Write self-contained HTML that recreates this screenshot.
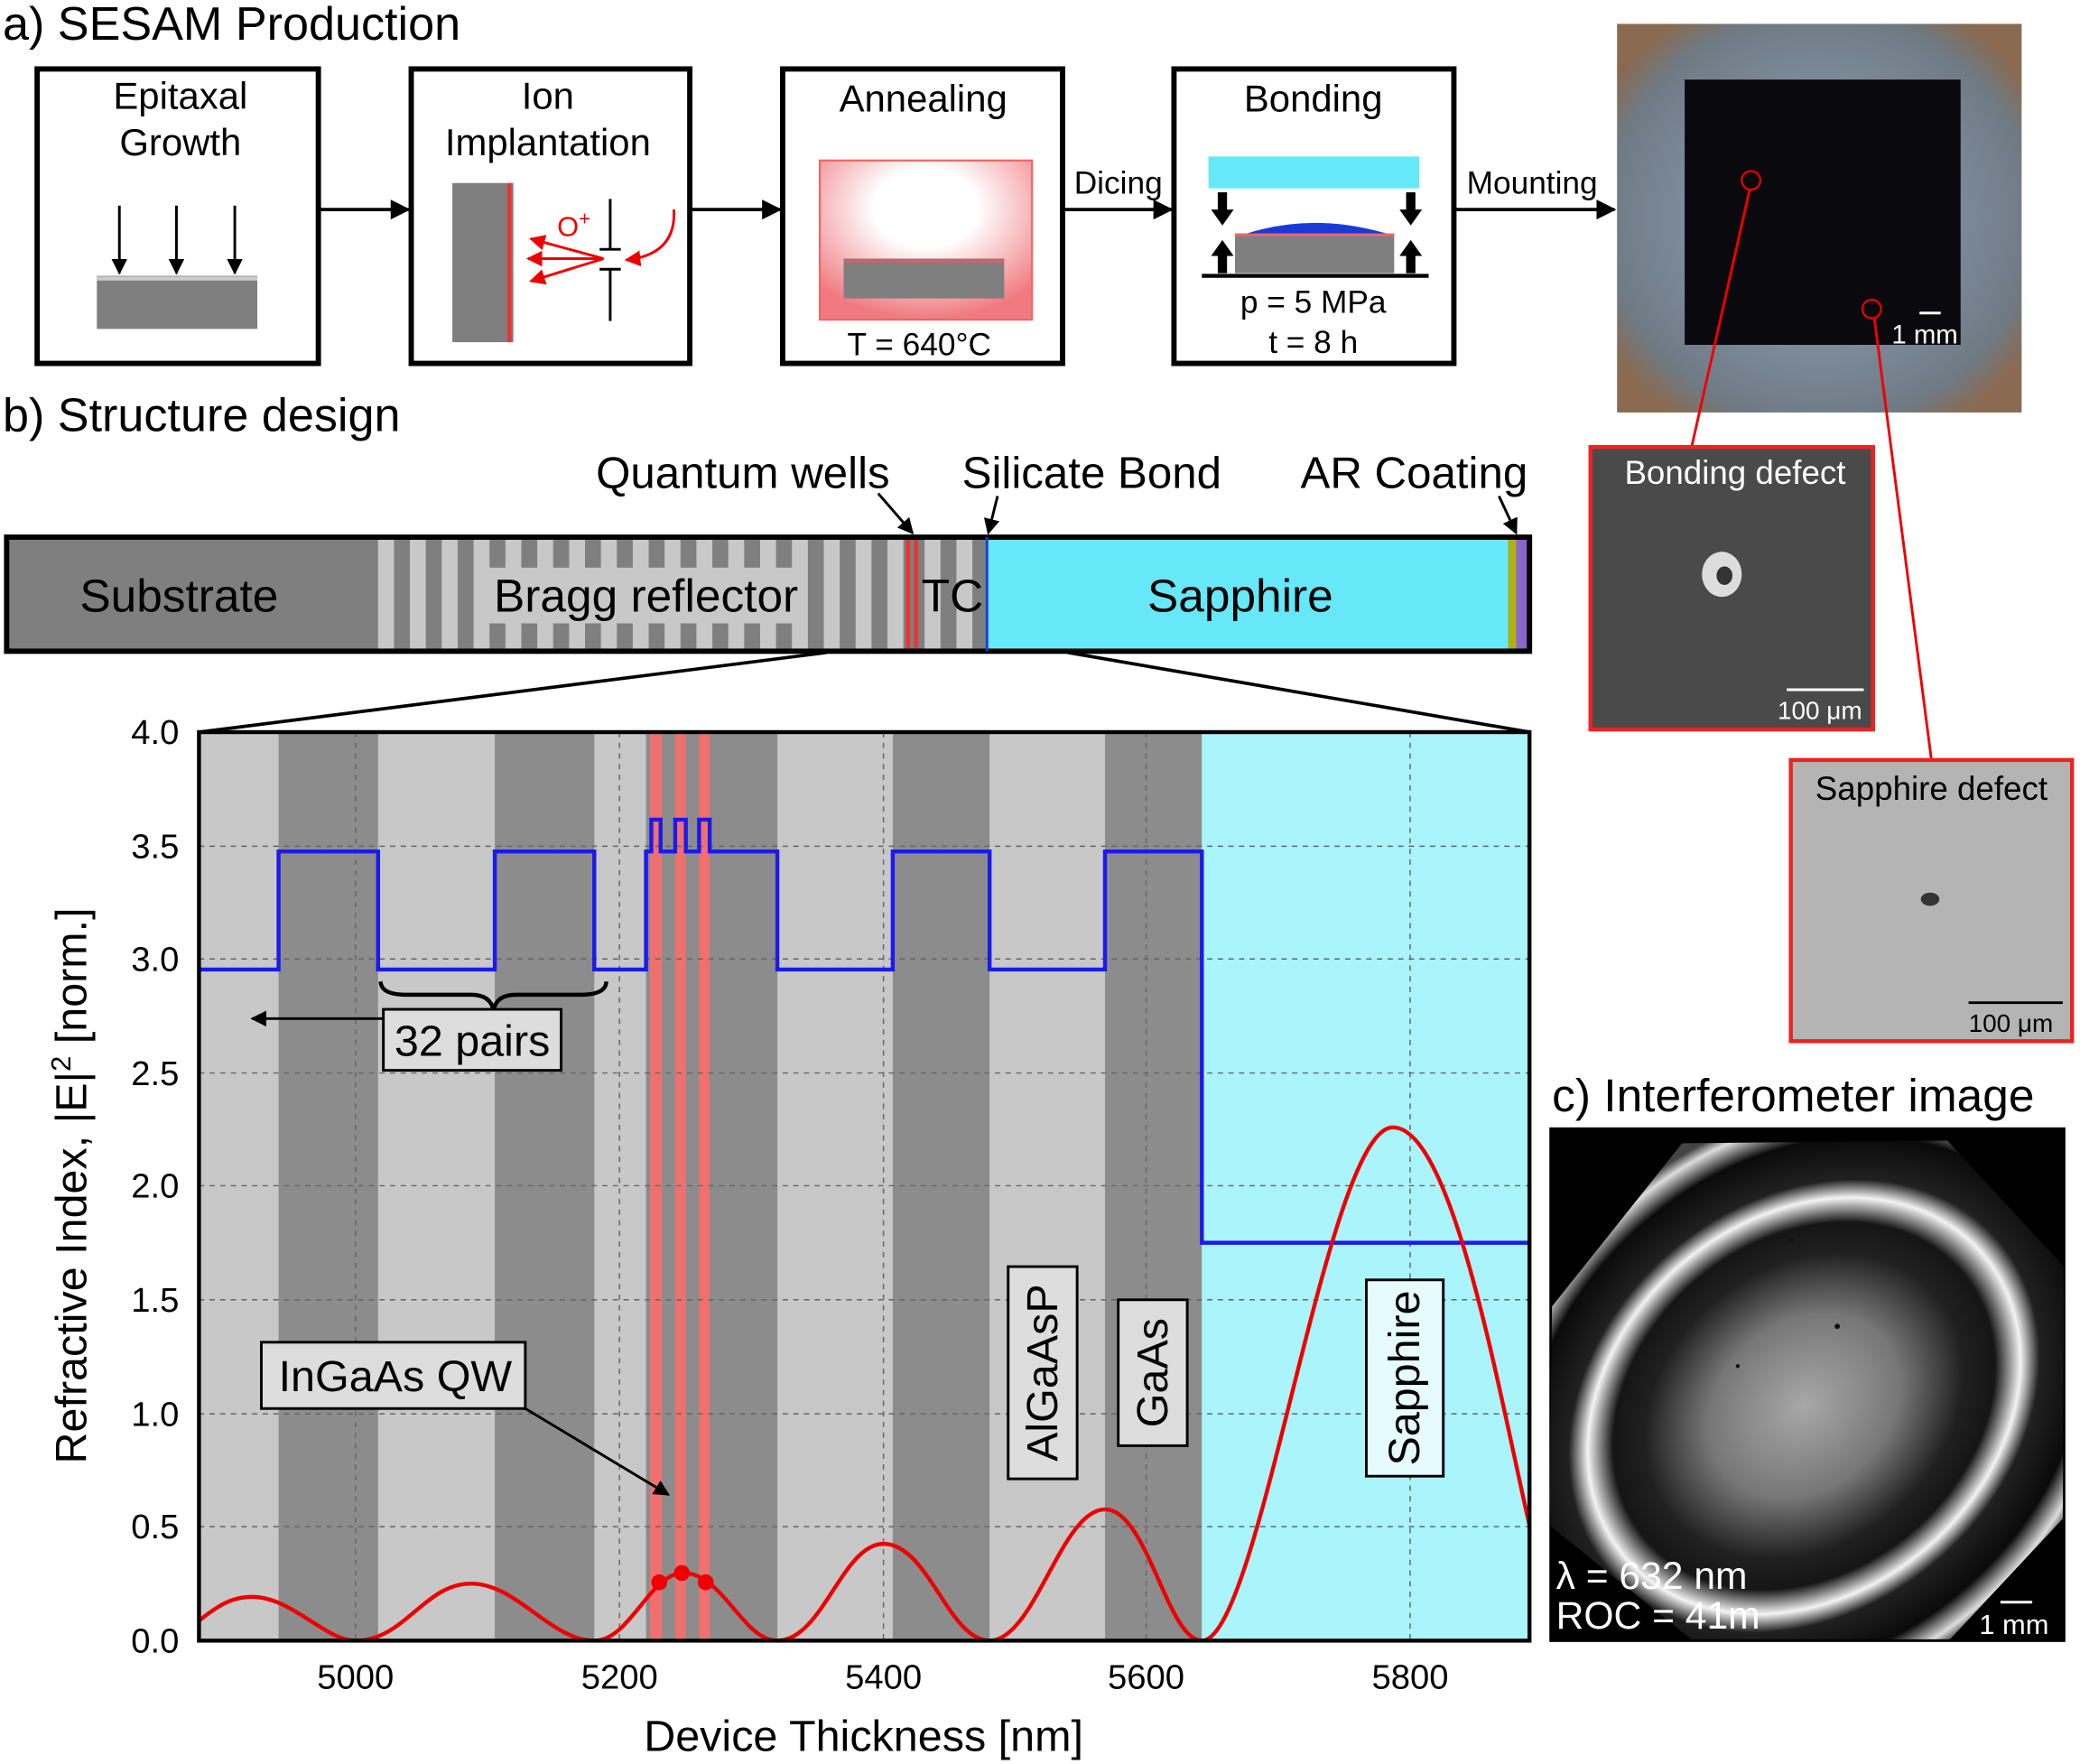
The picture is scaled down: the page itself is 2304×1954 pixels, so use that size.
<!DOCTYPE html>
<html><head><meta charset="utf-8"><style>
html,body{margin:0;padding:0;background:#fff}
svg{display:block}
text{font-family:"Liberation Sans",sans-serif;fill:#000}
</style></head><body>
<svg width="2304" height="1954" viewBox="0 0 1568 1330" preserveAspectRatio="none" xmlns="http://www.w3.org/2000/svg">
<defs>
<radialGradient id="ann" cx="50%" cy="30%" r="70%"><stop offset="0" stop-color="#fff"/><stop offset="0.35" stop-color="#fff"/><stop offset="1" stop-color="#f07a80"/></radialGradient>
<radialGradient id="intf" cx="1360" cy="1060" r="260" gradientUnits="userSpaceOnUse" gradientTransform="translate(1360 1060) rotate(-40) scale(1 0.8) translate(-1360 -1060)"><stop offset="0" stop-color="#a8a8a8"/><stop offset="0.3" stop-color="#777"/><stop offset="0.5" stop-color="#202020"/><stop offset="0.6" stop-color="#151515"/><stop offset="0.68" stop-color="#f4f4f4"/><stop offset="0.74" stop-color="#202020"/><stop offset="0.88" stop-color="#0a0a0a"/><stop offset="0.96" stop-color="#ddd"/><stop offset="1" stop-color="#444"/></radialGradient>
<radialGradient id="photo" cx="50%" cy="50%" r="62%"><stop offset="0.55" stop-color="#7c8a9a"/><stop offset="0.85" stop-color="#6f7a84"/><stop offset="1" stop-color="#8a6a50"/></radialGradient>
<marker id="ah" viewBox="0 0 10 10" refX="9" refY="5" markerWidth="6" markerHeight="6" orient="auto"><path d="M0,0L10,5L0,10z" fill="#000"/></marker>
<marker id="ahr" viewBox="0 0 10 10" refX="9" refY="5" markerWidth="6" markerHeight="6" orient="auto"><path d="M0,0L10,5L0,10z" fill="#e00"/></marker>
</defs>
<!-- a) -->
<text x="2" y="30" font-size="35.5">a) SESAM Production</text>
<g fill="none" stroke="#000" stroke-width="4">
<rect x="28" y="52" width="212" height="222"/><rect x="310" y="52" width="210" height="222"/><rect x="590" y="52" width="211" height="222"/><rect x="885" y="52" width="211" height="222"/>
</g>
<g stroke="#000" stroke-width="2.5" marker-end="url(#ah)">
<line x1="240" y1="158" x2="308" y2="158"/><line x1="520" y1="158" x2="588" y2="158"/><line x1="801" y1="158" x2="883" y2="158"/><line x1="1096" y1="158" x2="1217" y2="158"/>
</g>
<text x="136" y="82" font-size="28.5" text-anchor="middle">Epitaxal</text><text x="136" y="117" font-size="28.5" text-anchor="middle">Growth</text>
<rect x="73" y="208" width="121" height="40" fill="#7f7f7f"/><line x1="73" y1="210" x2="194" y2="210" stroke="#ccc" stroke-width="3"/>
<g stroke="#000" stroke-width="2" marker-end="url(#ah)"><line x1="90" y1="155" x2="90" y2="206"/><line x1="133" y1="155" x2="133" y2="206"/><line x1="177" y1="155" x2="177" y2="206"/></g>
<text x="413" y="82" font-size="28.5" text-anchor="middle">Ion</text><text x="413" y="117" font-size="28.5" text-anchor="middle">Implantation</text>
<rect x="341" y="138" width="46" height="120" fill="#7f7f7f"/><line x1="384" y1="138" x2="384" y2="258" stroke="#e33" stroke-width="3"/>
<text x="420" y="178" font-size="21" style="fill:#e00">O<tspan font-size="15" dy="-8">+</tspan></text>
<g stroke="#e00" stroke-width="2" marker-end="url(#ahr)"><line x1="455" y1="195" x2="400" y2="180"/><line x1="455" y1="195" x2="398" y2="195"/><line x1="455" y1="195" x2="400" y2="212"/></g>
<path d="M508,158 Q510,192 472,196" stroke="#e00" stroke-width="2" fill="none" marker-end="url(#ahr)"/>
<g stroke="#000" stroke-width="2"><line x1="460" y1="150" x2="460" y2="188"/><line x1="460" y1="203" x2="460" y2="242"/><line x1="452" y1="188" x2="468" y2="188"/><line x1="452" y1="203" x2="468" y2="203"/></g>
<text x="696" y="84" font-size="28.5" text-anchor="middle">Annealing</text>
<rect x="618" y="121" width="160" height="120" fill="url(#ann)" stroke="#e66" stroke-width="1.5"/>
<rect x="636" y="195" width="121" height="30" fill="#7f7f7f"/><line x1="636" y1="197" x2="757" y2="197" stroke="#c66" stroke-width="2"/>
<text x="693" y="268" font-size="24" text-anchor="middle">T = 640°C</text>
<text x="843" y="146" font-size="24" text-anchor="middle">Dicing</text>
<text x="990" y="84" font-size="28.5" text-anchor="middle">Bonding</text>
<rect x="911" y="118" width="159" height="24" fill="#66e8f8"/>
<rect x="931" y="176" width="120" height="30" fill="#7f7f7f"/><line x1="931" y1="177" x2="1051" y2="177" stroke="#e66" stroke-width="2"/>
<path d="M940,176 Q990,160 1045,176z" fill="#1a3ad8"/>
<line x1="906" y1="208" x2="1077" y2="208" stroke="#000" stroke-width="3"/>
<g fill="#000"><rect x="918" y="145" width="7" height="14"/><path d="M913,158h17l-8.5,12z"/><rect x="1060" y="145" width="7" height="14"/><path d="M1055,158h17l-8.5,12z"/>
<rect x="918" y="192" width="7" height="14"/><path d="M913,193h17l-8.5,-12z"/><rect x="1060" y="192" width="7" height="14"/><path d="M1055,193h17l-8.5,-12z"/></g>
<text x="990" y="236" font-size="24" text-anchor="middle">p = 5 MPa</text><text x="990" y="266" font-size="24" text-anchor="middle">t = 8 h</text>
<text x="1155" y="146" font-size="24" text-anchor="middle">Mounting</text>
<!-- photo -->
<rect x="1219" y="18" width="305" height="293" fill="url(#photo)"/>
<rect x="1270" y="60" width="208" height="200" fill="#0a0a0e"/>
<line x1="1447" y1="236" x2="1463" y2="236" stroke="#fff" stroke-width="2"/>
<text x="1426" y="259" font-size="20" style="fill:#fff">1 mm</text>
<circle cx="1320" cy="136" r="7" fill="none" stroke="#e00" stroke-width="1.5"/><circle cx="1411" cy="233" r="7" fill="none" stroke="#e00" stroke-width="1.5"/>
<line x1="1275" y1="338" x2="1319" y2="143" stroke="#e00" stroke-width="2"/><line x1="1456" y1="573" x2="1413" y2="240" stroke="#e00" stroke-width="2"/>
<rect x="1199" y="337" width="213" height="213" fill="#4a4a4a" stroke="#e22" stroke-width="3"/>
<text x="1308" y="365" font-size="25" text-anchor="middle" style="fill:#fff">Bonding defect</text>
<ellipse cx="1298" cy="433" rx="15" ry="17" fill="#ddd"/><ellipse cx="1300" cy="434" rx="6" ry="7" fill="#333"/>
<line x1="1347" y1="520" x2="1405" y2="520" stroke="#fff" stroke-width="2"/>
<text x="1340" y="542" font-size="19" style="fill:#fff">100 μm</text>
<rect x="1350" y="573" width="212" height="212" fill="#b4b4b4" stroke="#e22" stroke-width="3"/>
<text x="1456" y="603" font-size="25" text-anchor="middle">Sapphire defect</text>
<ellipse cx="1455" cy="678" rx="7" ry="5" fill="#333"/>
<line x1="1484" y1="756" x2="1555" y2="756" stroke="#000" stroke-width="2"/>
<text x="1484" y="778" font-size="19">100 μm</text>
<!-- c -->
<text x="1170" y="838" font-size="35">c) Interferometer image</text>
<rect x="1168" y="850" width="389" height="388" fill="#000"/>
<polygon points="1268,862 1468,860 1556,955 1555,1145 1470,1236 1275,1236 1168,1150 1170,985" fill="url(#intf)"/>
<g fill="#111"><circle cx="1350" cy="935" r="2"/><circle cx="1385" cy="1000" r="2"/><circle cx="1310" cy="1030" r="1.5"/></g>
<text x="1173" y="1198" font-size="29" style="fill:#fff">λ = 632 nm</text>
<text x="1173" y="1228" font-size="29" style="fill:#fff">ROC = 41m</text>
<line x1="1508" y1="1208" x2="1532" y2="1208" stroke="#fff" stroke-width="2"/>
<text x="1492" y="1232" font-size="21" style="fill:#fff">1 mm</text>
<!-- b -->
<text x="2" y="325" font-size="35.5">b) Structure design</text>
<text x="560" y="368" font-size="33.5" text-anchor="middle">Quantum wells</text>
<text x="823" y="368" font-size="33.5" text-anchor="middle">Silicate Bond</text>
<text x="1066" y="368" font-size="33.5" text-anchor="middle">AR Coating</text>
<g stroke="#000" stroke-width="2" marker-end="url(#ah)"><line x1="662" y1="372" x2="688" y2="402"/><line x1="752" y1="374" x2="745" y2="402"/><line x1="1130" y1="374" x2="1143" y2="402"/></g>
<rect x="5" y="405" width="1148" height="86" fill="#7f7f7f"/>
<g fill="#c8c8c8">
<rect x="285" y="405" width="12" height="86"/><rect x="309" y="405" width="12" height="86"/><rect x="333" y="405" width="12" height="86"/><rect x="357" y="405" width="12" height="86"/><rect x="381" y="405" width="12" height="86"/><rect x="405" y="405" width="12" height="86"/><rect x="429" y="405" width="12" height="86"/><rect x="453" y="405" width="12" height="86"/><rect x="477" y="405" width="12" height="86"/><rect x="501" y="405" width="12" height="86"/><rect x="525" y="405" width="12" height="86"/><rect x="549" y="405" width="12" height="86"/><rect x="573" y="405" width="12" height="86"/><rect x="597" y="405" width="12" height="86"/><rect x="621" y="405" width="12" height="86"/><rect x="645" y="405" width="12" height="86"/><rect x="669" y="405" width="12" height="86"/><rect x="697" y="405" width="12" height="86"/><rect x="721" y="405" width="12" height="86"/>
</g>
<rect x="683" y="405" width="3" height="86" fill="#e33"/><rect x="689" y="405" width="3" height="86" fill="#e33"/>
<rect x="743" y="405" width="394" height="86" fill="#66e8f8"/>
<rect x="1137" y="405" width="6" height="86" fill="#b0b010"/><rect x="1143" y="405" width="8" height="86" fill="#8866cc"/>
<rect x="5" y="405" width="1148" height="86" fill="none" stroke="#000" stroke-width="4"/>
<line x1="744" y1="405" x2="744" y2="491" stroke="#1a3ad8" stroke-width="2"/>
<text x="135" y="461" font-size="35" text-anchor="middle">Substrate</text>
<rect x="367" y="428" width="240" height="42" fill="#c8c8c8"/>
<text x="487" y="461" font-size="35" text-anchor="middle">Bragg reflector</text>
<text x="718" y="461" font-size="35" text-anchor="middle">TC</text>
<text x="935" y="461" font-size="35" text-anchor="middle">Sapphire</text>
<g stroke="#000" stroke-width="2.5"><line x1="623" y1="492" x2="150" y2="552"/><line x1="805" y1="492" x2="1153" y2="552"/></g>
<!-- plot -->
<rect x="150" y="552" width="1003" height="685" fill="#c8c8c8"/>
<g fill="#8c8c8c"><rect x="210" y="552" width="75" height="685"/><rect x="373" y="552" width="75" height="685"/><rect x="487" y="552" width="99" height="685"/><rect x="673" y="552" width="73" height="685"/><rect x="833" y="552" width="73" height="685"/></g>
<g fill="#f07070"><rect x="490" y="552" width="9" height="685"/><rect x="509" y="552" width="8" height="685"/><rect x="527" y="552" width="8" height="685"/></g>
<rect x="906" y="552" width="247" height="685" fill="#aaf4fc"/>
<g stroke="#666" stroke-width="1" stroke-dasharray="4,4">
<line x1="268" y1="552" x2="268" y2="1237"/><line x1="467" y1="552" x2="467" y2="1237"/><line x1="666" y1="552" x2="666" y2="1237"/><line x1="864" y1="552" x2="864" y2="1237"/><line x1="1063" y1="552" x2="1063" y2="1237"/>
<line x1="150" y1="638" x2="1153" y2="638"/><line x1="150" y1="723" x2="1153" y2="723"/><line x1="150" y1="809" x2="1153" y2="809"/><line x1="150" y1="894" x2="1153" y2="894"/><line x1="150" y1="980" x2="1153" y2="980"/><line x1="150" y1="1066" x2="1153" y2="1066"/><line x1="150" y1="1151" x2="1153" y2="1151"/>
</g>
<path d="M150,731H210V642H285V731H373V642H448V731H487V642H491V618H498V642H509V618H517V642H527V618H535V642H586V731H673V642H746V731H833V642H906V937H1153" fill="none" stroke="#1a1aee" stroke-width="3"/>
<path d="M150,1222C165,1210 175,1204 190,1204C220,1204 245,1237 268,1237C305,1237 320,1194 355,1194C390,1194 415,1237 448,1237C475,1237 490,1186 515,1186C545,1186 560,1237 586,1237C620,1237 635,1164 666,1164C700,1164 715,1237 746,1237C780,1237 800,1138 833,1138C865,1138 880,1237 906,1237C950,1237 1000,850 1050,850C1095,850 1130,1050 1153,1150" fill="none" stroke="#e00" stroke-width="3"/>
<g fill="#e00"><circle cx="497" cy="1193" r="6"/><circle cx="514" cy="1186" r="6"/><circle cx="532" cy="1193" r="6"/></g>
<rect x="150" y="552" width="1003" height="685" fill="none" stroke="#000" stroke-width="3"/>
<!-- labels in plot -->
<path d="M287,740 q0,10 20,10 h48 q15,0 17,12 q2,-12 17,-12 h48 q20,0 20,-10" fill="none" stroke="#000" stroke-width="3"/>
<line x1="290" y1="768" x2="190" y2="768" stroke="#000" stroke-width="2" marker-end="url(#ah)"/>
<rect x="289" y="761" width="134" height="46" fill="#ddd" stroke="#000" stroke-width="2"/>
<text x="356" y="796" font-size="33" text-anchor="middle">32 pairs</text>
<rect x="197" y="1012" width="199" height="50" fill="#ddd" stroke="#000" stroke-width="2"/>
<text x="298" y="1049" font-size="33" text-anchor="middle">InGaAs QW</text>
<line x1="396" y1="1062" x2="504" y2="1127" stroke="#000" stroke-width="2" marker-end="url(#ah)"/>
<rect x="760" y="955" width="52" height="160" fill="#ddd" stroke="#000" stroke-width="2"/>
<text transform="translate(797,1035) rotate(-90)" font-size="33" text-anchor="middle">AlGaAsP</text>
<rect x="843" y="980" width="52" height="110" fill="#ddd" stroke="#000" stroke-width="2"/>
<text transform="translate(880,1035) rotate(-90)" font-size="33" text-anchor="middle">GaAs</text>
<rect x="1030" y="965" width="58" height="148" fill="#e6fbfe" stroke="#000" stroke-width="2"/>
<text transform="translate(1070,1039) rotate(-90)" font-size="33" text-anchor="middle">Sapphire</text>
<!-- axes ticks -->
<g font-size="26" text-anchor="end">
<text x="135" y="561">4.0</text><text x="135" y="647">3.5</text><text x="135" y="732">3.0</text><text x="135" y="818">2.5</text><text x="135" y="903">2.0</text><text x="135" y="989">1.5</text><text x="135" y="1075">1.0</text><text x="135" y="1160">0.5</text><text x="135" y="1246">0.0</text>
</g>
<g font-size="26" text-anchor="middle">
<text x="268" y="1273">5000</text><text x="467" y="1273">5200</text><text x="666" y="1273">5400</text><text x="864" y="1273">5600</text><text x="1063" y="1273">5800</text>
</g>
<text x="651" y="1320" font-size="33" text-anchor="middle">Device Thickness [nm]</text>
<text transform="translate(65,894) rotate(-90)" font-size="33" text-anchor="middle">Refractive Index, |E|<tspan font-size="21" dy="-12">2</tspan><tspan dy="12"> [norm.]</tspan></text>
</svg>
</body></html>
